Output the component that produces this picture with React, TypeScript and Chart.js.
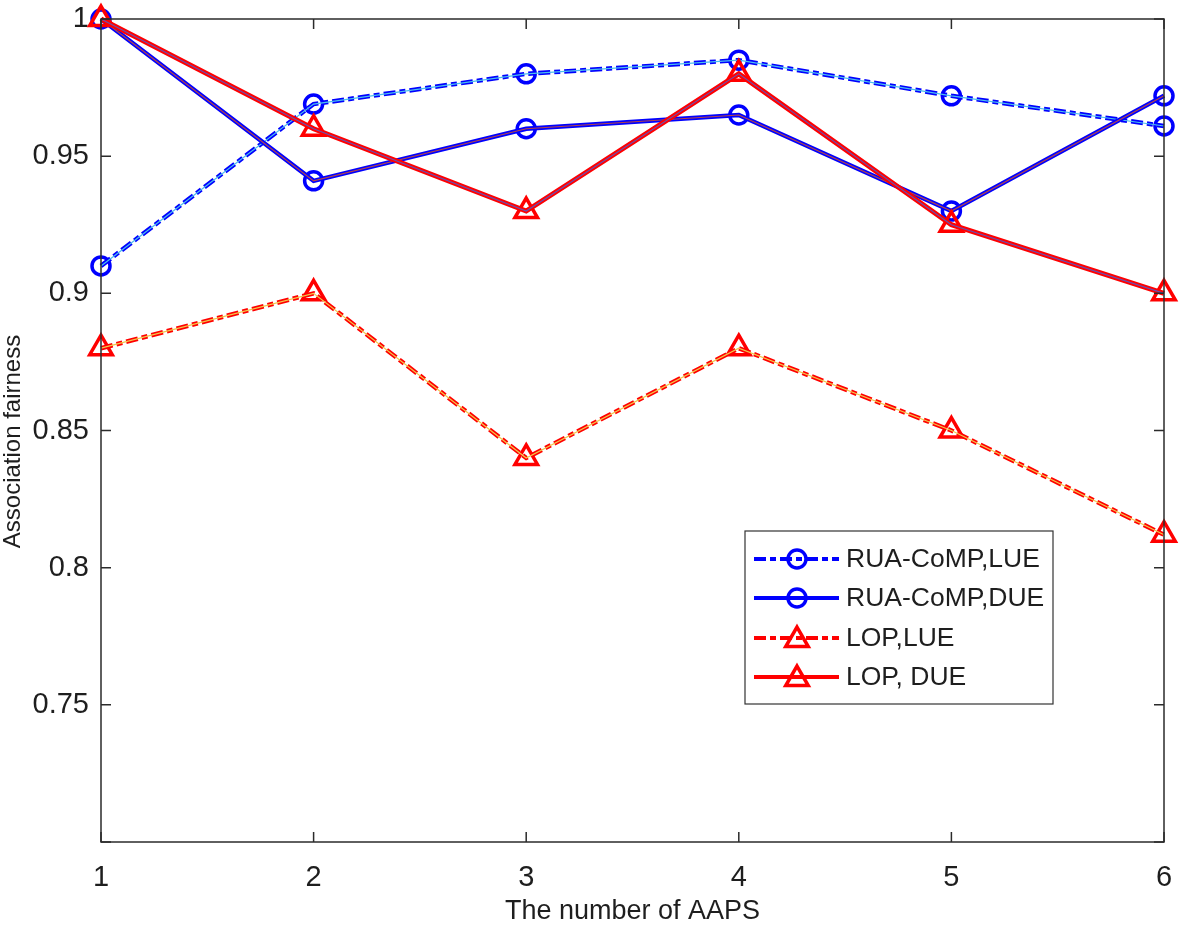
import React, { useEffect, useRef } from "react";
import { Chart, registerables } from "chart.js";

Chart.register(...registerables);

const AAPS = [1, 2, 3, 4, 5, 6];
const RUA_LUE = [0.91, 0.969, 0.98, 0.985, 0.972, 0.961];
const RUA_DUE = [1.0, 0.941, 0.96, 0.965, 0.93, 0.972];
const LOP_LUE = [0.88, 0.9, 0.84, 0.88, 0.85, 0.812];
const LOP_DUE = [1.0, 0.96, 0.93, 0.98, 0.925, 0.9];
const SERIES_NAMES = ["RUA-CoMP,LUE", "RUA-CoMP,DUE", "LOP,LUE", "LOP, DUE"];
const X_TITLE = "The number of AAPS";
const Y_TITLE = "Association fairness";
const Y_MIN = 0.7;
const Y_MAX = 1.0;
const Y_STEP = 0.05;

const FONT = "'Liberation Sans', Arial, Helvetica, sans-serif";
const AXIS_COLOR = "#2b2b2b";
const TEXT_COLOR = "#1e1e1e";
const BLUE = "#0000ff";
const RED = "#ff0000";
const DASH = [12, 4, 6, 4];

const toPts = (ys: number[]) => AAPS.map((x, i) => ({ x, y: ys[i] }));

const legendItems = [
  { label: SERIES_NAMES[0], color: BLUE, dash: DASH, marker: "circle" },
  { label: SERIES_NAMES[1], color: BLUE, dash: [], marker: "circle" },
  { label: SERIES_NAMES[2], color: RED, dash: DASH, marker: "triangle" },
  { label: SERIES_NAMES[3], color: RED, dash: [], marker: "triangle" },
];

function drawMarker(ctx: CanvasRenderingContext2D, kind: string, x: number, y: number, color: string) {
  ctx.save();
  ctx.setLineDash([]);
  ctx.strokeStyle = color;
  ctx.lineWidth = 3.5;
  ctx.beginPath();
  if (kind === "circle") {
    ctx.arc(x, y, 9, 0, Math.PI * 2);
  } else {
    const r = 13;
    ctx.moveTo(x, y - r);
    ctx.lineTo(x + r * Math.sin((2 * Math.PI) / 3), y - r * Math.cos((2 * Math.PI) / 3));
    ctx.lineTo(x + r * Math.sin((4 * Math.PI) / 3), y - r * Math.cos((4 * Math.PI) / 3));
    ctx.closePath();
  }
  ctx.stroke();
  ctx.restore();
}

const frameAndLegend = {
  id: "frameAndLegend",
  afterDraw(chart: any) {
    const { ctx, chartArea } = chart;
    const { left, right, top, bottom } = chartArea;
    const xs = chart.scales.x;
    const ys = chart.scales.y;
    ctx.save();
    ctx.strokeStyle = AXIS_COLOR;
    ctx.lineWidth = 1.5;
    ctx.setLineDash([]);
    ctx.strokeRect(left, top, right - left, bottom - top);
    const tl = 10;
    ctx.beginPath();
    AAPS.forEach((v) => {
      const px = xs.getPixelForValue(v);
      ctx.moveTo(px, bottom);
      ctx.lineTo(px, bottom - tl);
      ctx.moveTo(px, top);
      ctx.lineTo(px, top + tl);
    });
    for (let v = Y_MIN; v <= Y_MAX + 1e-9; v += Y_STEP) {
      const py = ys.getPixelForValue(v);
      ctx.moveTo(left, py);
      ctx.lineTo(left + tl, py);
      ctx.moveTo(right, py);
      ctx.lineTo(right - tl, py);
    }
    ctx.stroke();

    // y axis title
    ctx.save();
    ctx.translate(13, (top + bottom) / 2 + 11);
    ctx.rotate(-Math.PI / 2);
    ctx.fillStyle = TEXT_COLOR;
    ctx.font = `24px ${FONT}`;
    ctx.textAlign = "center";
    ctx.textBaseline = "middle";
    ctx.fillText(Y_TITLE, 0, 0);
    ctx.restore();

    // legend
    const bx = left + 644;
    const by = top + 512;
    const bw = 308;
    const bh = 173;
    ctx.fillStyle = "#ffffff";
    ctx.fillRect(bx, by, bw, bh);
    ctx.lineWidth = 1.2;
    ctx.strokeStyle = "#333333";
    ctx.strokeRect(bx, by, bw, bh);
    const rows = [28, 67, 107, 146];
    legendItems.forEach((it, i) => {
      const y = by + rows[i];
      ctx.save();
      ctx.strokeStyle = it.color;
      ctx.lineWidth = 4;
      ctx.setLineDash(it.dash);
      ctx.beginPath();
      ctx.moveTo(bx + 9, y);
      ctx.lineTo(bx + 94, y);
      ctx.stroke();
      ctx.restore();
      drawMarker(ctx, it.marker, bx + 52, it.marker === "triangle" ? y + 2 : y, it.color);
      ctx.fillStyle = TEXT_COLOR;
      ctx.font = `26.5px ${FONT}`;
      ctx.textBaseline = "middle";
      ctx.textAlign = "left";
      ctx.fillText(it.label, bx + 101, y + 1);
    });
    ctx.restore();
  },
};

export default function App() {
  const ref = useRef<HTMLCanvasElement | null>(null);
  useEffect(() => {
    document.body.style.margin = "0";
    if (!ref.current) return;
    const mk = (
      data: number[],
      color: string,
      width: number,
      dash: number[],
      marker: string | false,
      order: number
    ) => ({
      data: toPts(data),
      borderColor: color,
      backgroundColor: "rgba(0,0,0,0)",
      borderWidth: width,
      borderDash: dash,
      pointStyle: marker || "circle",
      pointRadius: marker ? (marker === "triangle" ? 13 : 9) : 0,
      pointHoverRadius: 0,
      pointBorderWidth: marker ? 3.5 : 0,
      pointBorderColor: color,
      pointBackgroundColor: "rgba(0,0,0,0)",
      tension: 0,
      fill: false,
      clip: false as any,
      order,
    });
    const chart = new Chart(ref.current, {
      type: "line",
      data: {
        datasets: [
          { label: SERIES_NAMES[0], ...mk(RUA_LUE, BLUE, 4.5, DASH, "circle", 8) },
          { label: "_o1", ...mk(RUA_LUE, "#4dbeee", 1.2, [], false, 7) },
          { label: SERIES_NAMES[1], ...mk(RUA_DUE, BLUE, 4.5, [], "circle", 6) },
          { label: "_o2", ...mk(RUA_DUE, "#b5474b", 1.2, [], false, 5) },
          { label: SERIES_NAMES[2], ...mk(LOP_LUE, RED, 4.5, DASH, "triangle", 4) },
          { label: "_o3", ...mk(LOP_LUE, "#f2c84b", 1.2, [], false, 3) },
          { label: SERIES_NAMES[3], ...mk(LOP_DUE, RED, 5, [], "triangle", 2) },
          { label: "_o4", ...mk(LOP_DUE, "#6a4fb0", 1.2, [], false, 1) },
        ] as any,
      },
      options: {
        responsive: false,
        animation: false,
        layout: { padding: { left: 0, right: 17, top: 19, bottom: 0 } },
        plugins: {
          legend: { display: false },
          tooltip: { enabled: false },
          title: { display: false },
        },
        scales: {
          x: {
            type: "linear",
            min: 1,
            max: 6,
            grid: { display: false, drawTicks: false },
            border: { display: false },
            ticks: {
              stepSize: 1,
              padding: 19,
              color: TEXT_COLOR,
              font: { family: FONT, size: 29 },
              callback: (v: any) => String(v),
            },
            title: {
              display: true,
              text: X_TITLE,
              color: TEXT_COLOR,
              font: { family: FONT, size: 27, lineHeight: 1 },
              padding: { top: 0, bottom: 2 },
            },
            afterFit: (s: any) => {
              s.height = 85;
              s.paddingLeft = 0;
              s.paddingRight = 0;
            },
          },
          y: {
            type: "linear",
            min: Y_MIN,
            max: Y_MAX,
            grid: { display: false, drawTicks: false },
            border: { display: false },
            ticks: {
              stepSize: Y_STEP,
              autoSkip: false,
              padding: 12,
              color: TEXT_COLOR,
              font: { family: FONT, size: 29 },
              callback: (v: any) =>
                Math.abs(v - Y_MIN) < 1e-6 ? "" : String(+Number(v).toFixed(2)),
            },
            title: { display: false },
            afterFit: (s: any) => {
              s.width = 101;
              s.paddingTop = 0;
              s.paddingBottom = 0;
            },
          },
        },
      },
      plugins: [frameAndLegend],
    });
    return () => chart.destroy();
  }, []);
  return (
    <div style={{ position: "absolute", left: 0, top: 0, width: 1181, height: 927, background: "#fff" }}>
      <canvas ref={ref} width={1181} height={927} />
    </div>
  );
}
